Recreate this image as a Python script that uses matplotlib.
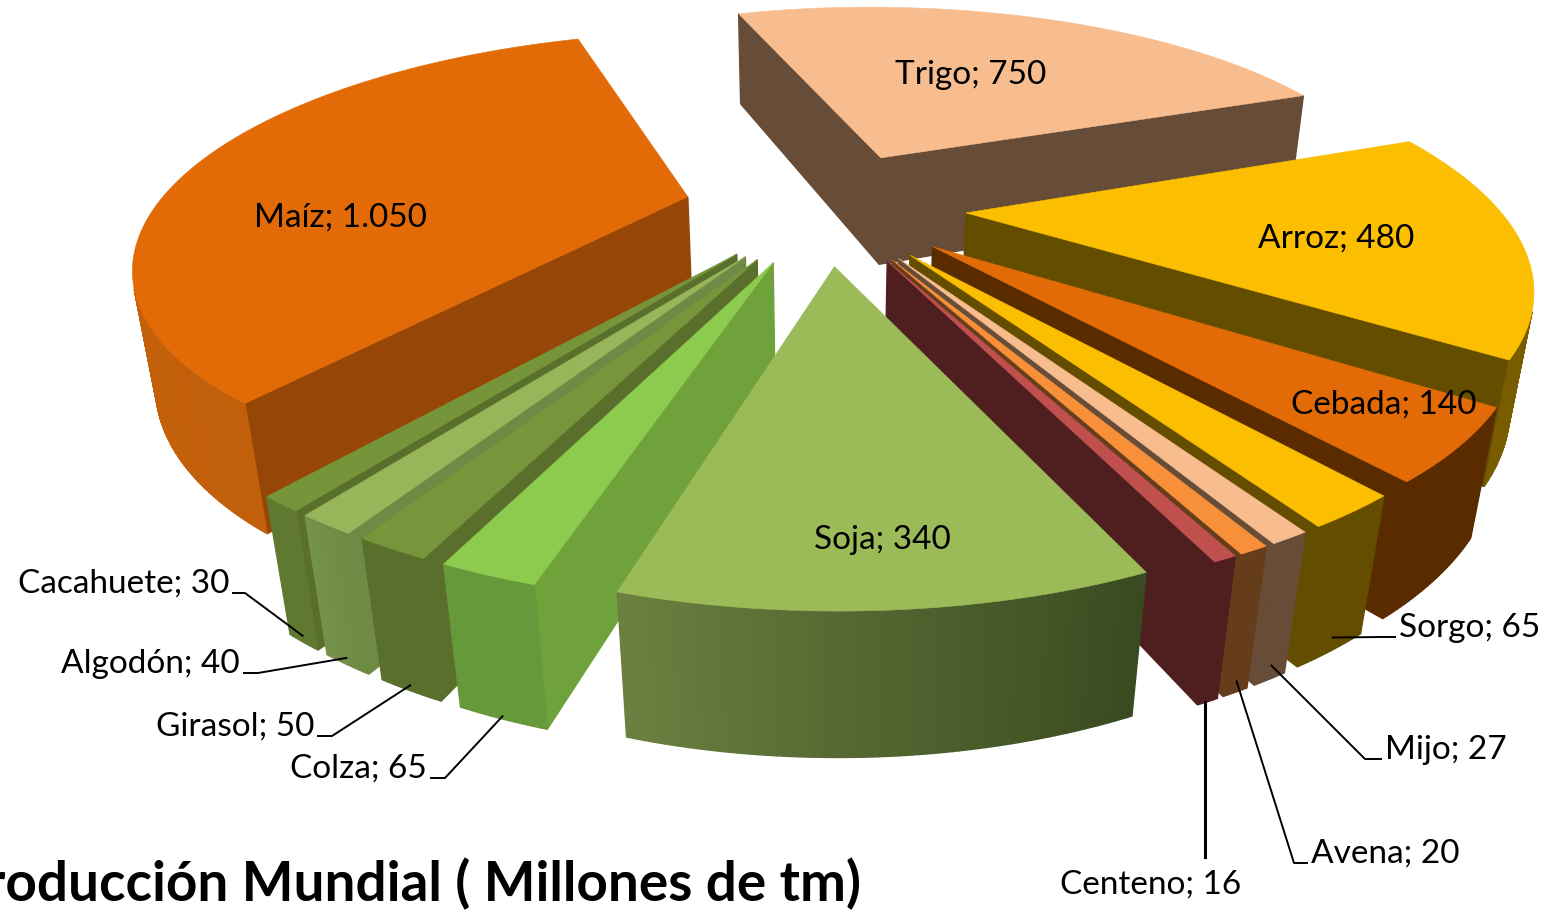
import numpy as np
import matplotlib
matplotlib.use("Agg")
import matplotlib.pyplot as plt
from matplotlib.colors import to_rgb

# ---- data (clockwise from the start angle) ----
crops = ["Trigo", "Arroz", "Cebada", "Sorgo", "Mijo", "Avena", "Centeno", "Soja",
         "Colza", "Girasol", "Algodón", "Cacahuete", "Maíz"]
values = [750, 480, 140, 65, 27, 20, 16, 340, 65, 50, 40, 30, 1050]
title = "Producción Mundial ( Millones de tm)"

top_colors = ["#F8BD8E", "#FBBE00", "#E26B08", "#FBBE00", "#F8BD8E", "#F79039", "#C0504D", "#9BBB59",
              "#8DCB4E", "#77953A", "#96B65A", "#76953A", "#E26B08"]
side_colors = ["#674C37", "#654D00", "#5B2B00", "#654D00", "#674C37", "#653D1A", "#4F1F20", "#4F6228",
               "#6FA23B", "#5A6F2C", "#6F8A44", "#5A6F2C", "#964707"]
rim_left = ["#674C37", "#7A5C00", "#5B2B00", "#654D00", "#674C37", "#653D1A", "#4F1F20", "#6B8040",
            "#65993A", "#5A6F2C", "#75924A", "#5F7A30", "#C4600A"]
rim_right = ["#674C37", "#7A5C00", "#5B2B00", "#654D00", "#674C37", "#653D1A", "#4F1F20", "#3A4A20",
             "#65993A", "#5A6F2C", "#6E8A44", "#5F7A30", "#B85A08"]
draw_order = ["Trigo", "Maíz", "Arroz", "Cebada", "Sorgo", "Mijo", "Avena", "Centeno",
              "Cacahuete", "Algodón", "Girasol", "Colza", "Soja"]

# ---- view and layout ----
START = -19.0
EXPLODE = 0.265
CX, CY = 825.0, 206.0
B, A, P, S, V = 531.0, 213.0, 0.265, 0.032, 115.0

inside = {"Trigo": (971, 75), "Arroz": (1336, 239), "Cebada": (1384, 405), "Soja": (882, 540), "Maíz": (340, 218)}
# label anchor (x, y, ha), depth on the rim for the leader tip, fraction across the wedge, elbow length
outside = {"Sorgo": (1399, 628, "left", 0.90, 0.5, 14),
           "Mijo": (1385, 750, "left", 0.90, 0.5, 16),
           "Avena": (1311, 854, "left", 0.92, 0.5, 13),
           "Centeno": (1241, 885, "right", 1.0, 0.6, 0),
           "Colza": (427, 769, "right", 0.98, 0.5, 14),
           "Girasol": (314, 727, "right", 0.96, 0.5, 14),
           "Algodón": (240, 664, "right", 0.95, 0.5, 14),
           "Cacahuete": (229, 584, "right", 0.95, 0.5, 12)}


def project(X, Y, z=0.0):
    w = 1 + P * Y + S * z
    return CX + B * X / w, CY - (A * Y - V * z) / w


def polar(theta, r, off):
    t = np.radians(theta)
    return off[0] + r * np.sin(t), off[1] + r * np.cos(t)


def area(pts):
    x, y = np.array(pts).T
    return 0.5 * np.sum(x * np.roll(y, -1) - np.roll(x, -1) * y)


def quad(ax, a, b, color, order):
    """Wall between top-plane points a and b, drawn only when it faces the viewer."""
    pts = [project(*a), project(*b), project(*b, 1.0), project(*a, 1.0)]
    if area(pts) > 0:
        xs, ys = zip(*pts)
        ax.fill(xs, ys, color=color, lw=1.0, zorder=order)


def mix(c1, c2, f):
    return tuple((1 - f) * np.array(to_rgb(c1)) + f * np.array(to_rgb(c2)))


def fmt(v):
    return f"{v:,}".replace(",", ".")


fig = plt.figure(figsize=(15.5, 9.1), dpi=100)
ax = fig.add_axes([0, 0, 1, 1])
ax.set_xlim(0, 1550)
ax.set_ylim(910, 0)
ax.axis("off")

total = sum(values)
angles = np.cumsum([0] + [v / total * 360 for v in values]) + START
idx = {c: i for i, c in enumerate(crops)}

geom = {}
z = 1
for name in draw_order:
    i = idx[name]
    t0, t1 = angles[i], angles[i + 1]
    mid = 0.5 * (t0 + t1)
    off = polar(mid, EXPLODE, (0, 0))
    geom[name] = (t0, t1, off)
    arc = np.linspace(t0, t1, max(6, int((t1 - t0) * 2)))
    rim = [polar(t, 1.0, off) for t in arc]
    quad(ax, rim[0], off, side_colors[i], z)
    quad(ax, off, rim[-1], side_colors[i], z)
    # curved outer wall, shaded from its left end to its right end on the picture
    px = np.array([project(*p)[0] for p in rim])
    span = max(px.max() - px.min(), 1.0)
    for k in range(len(rim) - 1):
        f = (0.5 * (px[k] + px[k + 1]) - px.min()) / span
        quad(ax, rim[k + 1], rim[k], mix(rim_left[i], rim_right[i], f), z)
    xs, ys = zip(*[project(*p) for p in [off] + rim])
    ax.fill(xs, ys, color=top_colors[i], lw=0.4, zorder=z + 0.5)
    z += 1

FS = 24
for name, (x, y) in inside.items():
    i = idx[name]
    ax.text(x, y, f"{name}; {fmt(values[i])}", ha="center", va="center", fontsize=FS,
            family="Lato", color="black", zorder=100)

for name, (x, y, ha, depth, frac, elbow) in outside.items():
    i = idx[name]
    t0, t1, off = geom[name]
    tip = project(*polar(t0 + frac * (t1 - t0), 1.0, off), depth)
    ax.text(x, y, f"{name}; {fmt(values[i])}", ha=ha, va="center", fontsize=FS,
            family="Lato", color="black", zorder=100)
    sx = x - 4 if ha == "left" else x + 4
    ly = y + 9
    if name == "Centeno":
        ax.plot([tip[0], tip[0]], [tip[1], 857], color="black", lw=2.2, zorder=99)
    else:
        ax.plot([sx, sx + (-elbow if ha == "left" else elbow), tip[0]], [ly, ly, tip[1]],
                color="black", lw=1.4, zorder=99)

ax.text(861, 884, title, ha="right", va="center", fontsize=39.5, fontweight="bold",
        family="Lato", color="black", zorder=100, clip_on=False)

fig.savefig("out.png", dpi=100, facecolor="white")
